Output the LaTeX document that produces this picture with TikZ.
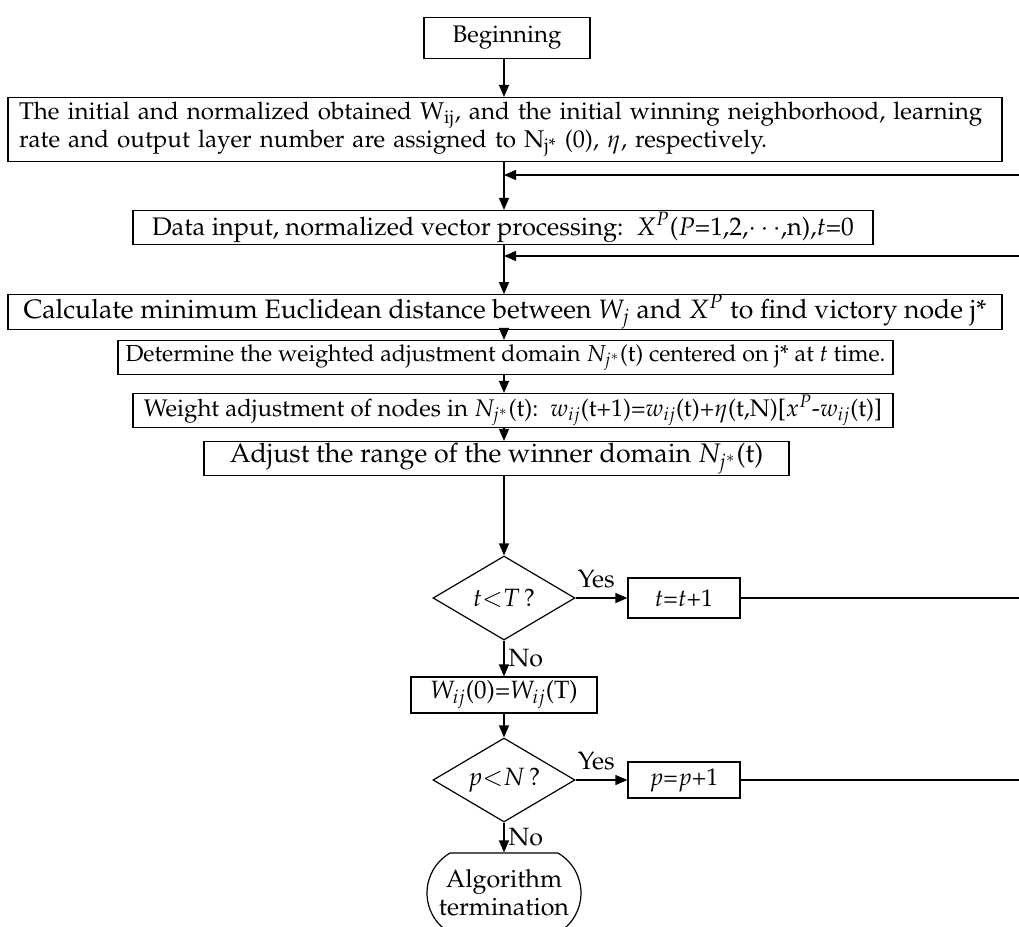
\documentclass[tikz,border=0pt]{standalone}
\usepackage[T1]{fontenc}
\usepackage{mathpazo}
\usetikzlibrary{shapes.geometric,shapes.misc,arrows.meta}
\begin{document}
\begin{tikzpicture}[x=0.5pt,y=-0.5pt,
  every node/.style={font=\fontsize{12}{14.5}\selectfont},
  box/.style={draw, line width=0.6pt, inner sep=0pt, minimum height=17pt},
  dec/.style={draw, diamond, aspect=1.7, line width=0.6pt, inner sep=0pt, minimum width=71pt, minimum height=42pt, font=\fontsize{12.5}{14}\selectfont},
  term/.style={draw, rounded rectangle, rounded rectangle arc length=120, line width=0.6pt, inner sep=0pt, minimum width=77pt, minimum height=40pt, align=center, font=\fontsize{12.5}{14}\selectfont},
  arr/.style={-{Triangle[length=6pt,width=5pt]}, line width=0.6pt},
  lbl/.style={inner sep=2pt, font=\fontsize{12.5}{14}\selectfont},
  lblup/.style={inner sep=4.5pt, font=\fontsize{12.5}{14}\selectfont}
]
\useasboundingbox (0,0) rectangle (1019,927);

\node[box, minimum width=83pt, minimum height=20.5pt] (begin) at (507,38) {Beginning};
\node[box, minimum width=497pt, minimum height=32pt, text width=486pt, align=left, font=\fontsize{12.1}{14}\selectfont] (init) at (505,129.5)
  {The initial and normalized obtained W\textsubscript{ij}, and the initial winning neighborhood, learning\\
   rate and output layer number are assigned to N\textsubscript{j*}~(0), $\eta$, respectively.};
\node[box, minimum width=370pt, minimum height=17pt, font=\fontsize{12.7}{14}\selectfont] (data) at (503,227.5)
  {Data input, normalized vector processing:\ \ $X^P$($P$=1,2,$\cdots$,n),$t$=0};
\node[box, minimum width=497pt, font=\fontsize{13.3}{15}\selectfont] (calc) at (505,312)
  {Calculate minimum Euclidean distance between $W_j$ and $X^P$ to find victory node j*};
\node[box, minimum width=387.5pt, font=\fontsize{11.6}{14}\selectfont] (det) at (505.5,357.5)
  {Determine the weighted adjustment domain $N_{j^*}$(t) centered on j* at $t$ time.};
\node[box, minimum width=380pt] (wadj) at (513,410.5)
  {Weight adjustment of nodes in $N_{j^*}$(t):\ \ $w_{ij}$(t+1)=$w_{ij}$(t)+$\eta$(t,N)[$x^P$-$w_{ij}$(t)]};
\node[box, minimum width=292.5pt, font=\fontsize{13.4}{15}\selectfont] (adj) at (496.5,458.5)
  {Adjust the range of the winner domain $N_{j^*}$(t)};
\node[dec] (d1) at (504,598) {$t{<}T$\,?};
\node[box, minimum width=56pt, minimum height=20pt] (tinc) at (684,598) {$t$=$t$+1};
\node[box, minimum width=93pt, minimum height=18pt, font=\fontsize{12.5}{14}\selectfont] (wset) at (504,695) {$W_{ij}$(0)=$W_{ij}$(T)};
\node[dec] (d2) at (504,780) {$p{<}N$\,?};
\node[box, minimum width=56pt, minimum height=18pt] (pinc) at (684,780) {$p$=$p$+1};
\node[term] (end) at (504,893) {Algorithm\\termination};

\coordinate (cx) at (504,0);
\coordinate (j1) at (504,175);
\coordinate (j2) at (504,256);
\coordinate (rr) at (1024,0);

\draw[arr] (cx |- begin.south) -- (cx |- init.north);
\draw[arr] (cx |- init.south) -- (cx |- data.north);
\draw[arr] (cx |- data.south) -- (cx |- calc.north);
\draw[arr] (cx |- calc.south) -- (cx |- det.north);
\draw[arr] (cx |- det.south) -- (cx |- wadj.north);
\draw[arr] (cx |- wadj.south) -- (cx |- adj.north);
\draw[arr] (cx |- adj.south) -- (d1.north);
\draw[arr] (d1.east) -- node[lblup, above, pos=0.4] {Yes} (tinc.west);
\draw[arr] (d1.south) -- node[lbl, right] {No} (wset.north -| d1);
\draw[arr] (wset.south -| d1) -- (d2.north);
\draw[arr] (d2.east) -- node[lblup, above, pos=0.4] {Yes} (pinc.west);
\draw[arr] (d2.south) -- node[lbl, right] {No} (end.north -| d2);
\draw[arr] (tinc.east) -- (tinc.east -| rr) |- (j2);
\draw[arr] (pinc.east) -- (pinc.east -| rr) |- (j1);
\end{tikzpicture}
\end{document}
